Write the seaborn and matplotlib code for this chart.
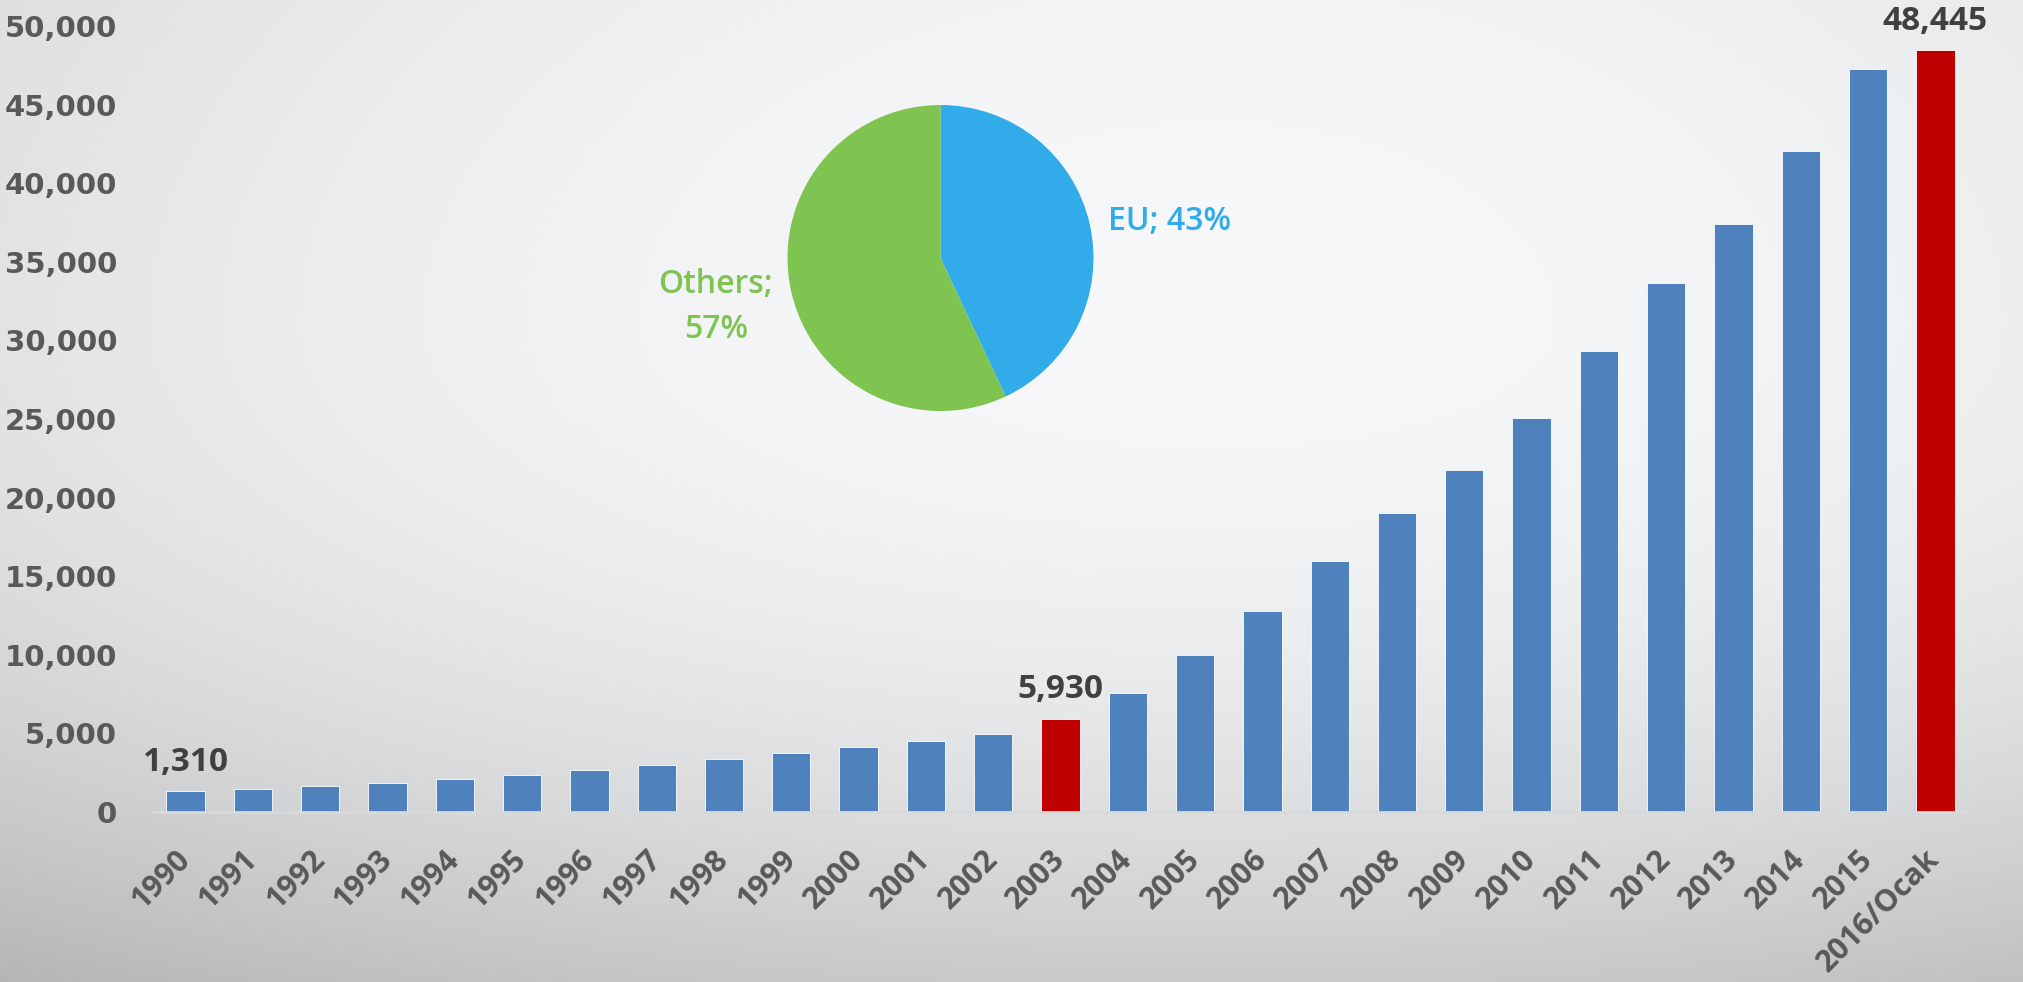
import numpy as np
import pandas as pd
import matplotlib
matplotlib.use("Agg")
import matplotlib.pyplot as plt
from matplotlib.ticker import FuncFormatter
import seaborn as sns

# ---- data ----
years = ["1990", "1991", "1992", "1993", "1994", "1995", "1996", "1997", "1998",
         "1999", "2000", "2001", "2002", "2003", "2004", "2005", "2006", "2007",
         "2008", "2009", "2010", "2011", "2012", "2013", "2014", "2015", "2016/Ocak"]
values = [1310, 1470, 1670, 1870, 2070, 2350, 2650, 2970, 3370,
          3730, 4110, 4530, 4940, 5930, 7600, 9990, 12780, 15960,
          18990, 21780, 25040, 29340, 33640, 37420, 42080, 47290, 48445]
highlight = ["1990", "2003", "2016/Ocak"]          # bars with value labels
red_bars = ["2003", "2016/Ocak"]
pie_labels = ["EU", "Others"]
pie_values = [43, 57]
y_ticks = list(range(0, 50001, 5000))

BLUE = "#4F81BD"
RED = "#C00000"
PIE_BLUE = "#31ABEA"
PIE_GREEN = "#7FC350"

sns.set_theme(style="white")
plt.rcParams["font.family"] = ["DejaVu Sans"]

W, H = 2024, 982
fig = plt.figure(figsize=(W / 100, H / 100), dpi=100)

# ---- background gradient ----
bg = fig.add_axes([0, 0, 1, 1], zorder=-10)
yy, xx = np.mgrid[0:1:400j, 0:1:800j]
nx = (xx - 0.6) / 0.9
ny = np.where(yy > 0.33, (yy - 0.33) / 0.67, (yy - 0.33) / 1.1)
d2 = nx ** 2 + ny ** 2
val = np.clip(0.965 - 0.18 * d2, 0.0, 1.0)
img = np.dstack([val, val + 0.006, val + 0.012])
img = np.clip(img, 0, 1)
bg.imshow(img, aspect="auto", extent=[0, 1, 0, 1], origin="upper")
bg.set_axis_off()

# ---- bar chart ----
ax = fig.add_axes([152 / W, (H - 812) / H, (1969 - 152) / W, (812 - 26) / H])
ax.patch.set_alpha(0)
df = pd.DataFrame({"year": years, "value": values})
palette = {y: (RED if y in red_bars else BLUE) for y in years}
sns.barplot(data=df, x="year", y="value", hue="year", palette=palette,
            width=0.57, legend=False, ax=ax, saturation=1)
for p in ax.patches:
    p.set_edgecolor("white")
    p.set_linewidth(0.6)

ax.set_xlim(-0.5, len(years) - 0.5)
ax.set_ylim(0, 50000)
ax.set_yticks(y_ticks)
ax.yaxis.set_major_formatter(FuncFormatter(lambda v, _: f"{int(v):,}"))
ax.set_xlabel("")
ax.set_ylabel("")
for s in ["top", "right", "left"]:
    ax.spines[s].set_visible(False)
ax.spines["bottom"].set_color("#D9D9D9")
ax.spines["bottom"].set_linewidth(2)
ax.tick_params(axis="y", length=0, pad=25, labelsize=21, labelcolor="#595959")
ax.tick_params(axis="x", length=0, pad=31, labelcolor="#595959")
for lab in ax.get_yticklabels():
    lab.set_fontweight("bold")
    lab.set_family("DejaVu Sans")
for lab in ax.get_xticklabels():
    lab.set_rotation(45)
    lab.set_ha("right")
    lab.set_va("center")
    lab.set_rotation_mode("anchor")
    lab.set_fontsize(22)
    lab.set_fontweight("bold")
    lab.set_family("Open Sans")

for i, (y, v) in enumerate(zip(years, values)):
    if y in highlight:
        ax.annotate(f"{v:,}", xy=(i, v), xytext=(0, 9), textcoords="offset points",
                    ha="center", va="bottom", fontsize=24, fontweight="bold",
                    family="Open Sans", color="#404040")

# ---- pie inset ----
cx, cy, r = 940.5, 258, 153
pax = fig.add_axes([(cx - r) / W, (H - cy - r) / H, 2 * r / W, 2 * r / H])
pax.pie(pie_values, colors=[PIE_BLUE, PIE_GREEN], startangle=90, counterclock=False,
        wedgeprops=dict(linewidth=0))
pax.set_xlim(-1, 1)
pax.set_ylim(-1, 1)
pax.set_aspect("equal")
pax.set_axis_off()

fig.text(1108 / W, 1 - 222 / H, f"{pie_labels[0]}; {pie_values[0]}%", ha="left", va="center",
         fontsize=23, fontweight="semibold", family="Open Sans", color=PIE_BLUE)
fig.text(716 / W, 1 - 307 / H, f"{pie_labels[1]};\n{pie_values[1]}%", ha="center", va="center",
         fontsize=23, fontweight="semibold", family="Open Sans", color=PIE_GREEN,
         linespacing=1.45)

fig.savefig("out.png", dpi=100)
